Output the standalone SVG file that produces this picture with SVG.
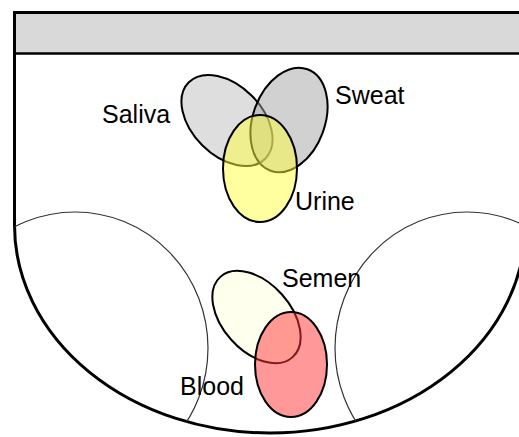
<svg xmlns="http://www.w3.org/2000/svg" width="519" height="437" viewBox="0 0 519 437">
  <defs>
    <style>
      .lbl { font-family: "Liberation Sans", Arial, sans-serif; font-size: 25px; fill: #000; }
      .set { stroke: #000; stroke-width: 2; }
      .inner { fill: none; stroke: #333; stroke-width: 1.2; }
    </style>
    <clipPath id="bodyClip">
      <path d="M 14.5 12 H 540 V 225 L 525.5 225 A 255.5 208 0 0 1 14.5 225 Z"/>
    </clipPath>
  </defs>
  <rect width="519" height="437" fill="#fff"/>

  <g id="frame">
    <rect x="14.5" y="12.5" width="520" height="41" fill="#d9d9d9"/>
    <line x1="14.5" y1="53.5" x2="530" y2="53.5" stroke="#000" stroke-width="2.5"/>
    <path d="M 530 12.5 H 14.5 V 225 A 255.5 208 0 0 0 525.5 225 V 12.5" fill="none" stroke="#000" stroke-width="3"/>
  </g>

  <g id="lobes" clip-path="url(#bodyClip)">
    <ellipse class="inner" cx="75" cy="348" rx="133" ry="136"/>
    <ellipse class="inner" cx="467" cy="348" rx="132" ry="136"/>
  </g>

  <g id="saliva">
    <ellipse class="set" cx="227" cy="120.5" rx="54" ry="35" transform="rotate(45 227 120.5)" fill="#bdbdbd" fill-opacity="0.5"/>
    <text class="lbl" x="102" y="123">Saliva</text>
  </g>
  <g id="sweat">
    <ellipse class="set" cx="289" cy="120" rx="36" ry="54" transform="rotate(20 289 120)" fill="#a3a3a3" fill-opacity="0.5"/>
    <text class="lbl" x="335" y="104">Sweat</text>
  </g>
  <g id="urine">
    <ellipse class="set" cx="260" cy="168.5" rx="37" ry="53.5" fill="#ffff40" fill-opacity="0.5"/>
    <text class="lbl" x="295" y="210">Urine</text>
  </g>
  <g id="semen">
    <ellipse class="set" cx="256.5" cy="317" rx="54" ry="34" transform="rotate(48 256.5 317)" fill="#ffffee"/>
    <text class="lbl" x="282" y="287">Semen</text>
  </g>
  <g id="blood">
    <ellipse class="set" cx="291" cy="364.5" rx="36" ry="52.5" fill="#ff3333" fill-opacity="0.5"/>
    <text class="lbl" x="180" y="395">Blood</text>
  </g>
  <g id="connectors"/>
</svg>
